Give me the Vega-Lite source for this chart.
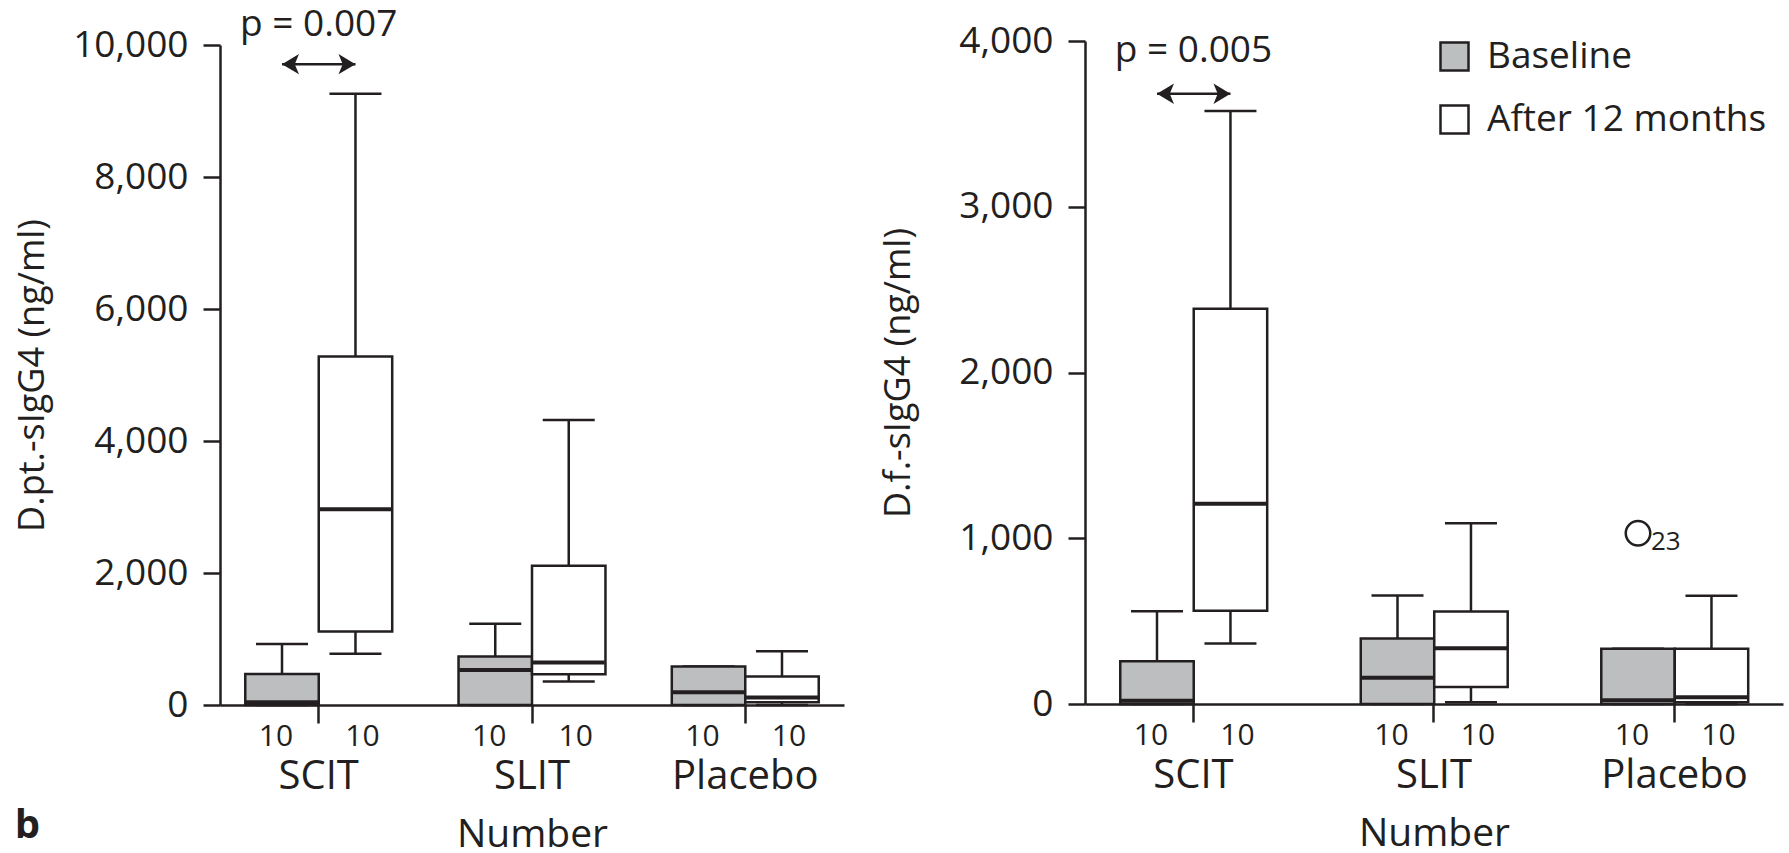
{
  "$schema": "https://vega.github.io/schema/vega-lite/v6.json",
  "background": "white",
  "padding": {"left": 14, "top": 5, "right": 5, "bottom": 5},
  "bounds": "flush",
  "spacing": 241,
  "title": {"text": "b", "orient": "bottom", "anchor": "start", "fontSize": 40, "fontWeight": "bold", "font": "Open Sans", "color": "#231F20", "offset": -48},
  "config": {
    "view": {"stroke": null},
    "font": "Open Sans",
    "axis": {"domainColor": "#231F20", "domainWidth": 2.5, "tickColor": "#231F20", "tickWidth": 2.5, "labelColor": "#231F20", "titleColor": "#231F20", "labelFont": "Open Sans", "titleFont": "Open Sans", "grid": false, "titleFontWeight": "normal", "zindex": 1},
    "axisY": {"tickSize": 17, "labelPadding": 15, "labelFontSize": 37, "titleFontSize": 36, "titlePadding": 21},
    "axisX": {"tickSize": 18, "labelFontSize": 40, "labelAngle": 0, "labelBaseline": "alphabetic", "labelPadding": 65, "titleFontSize": 39, "titlePadding": 19}
  },
  "resolve": {"scale": {"fill": "independent"}, "legend": {"fill": "independent"}},
  "datasets": {
    "dpt": [
      {"group": "SCIT", "condition": "Baseline", "n": 10, "min": 0, "q1": 0, "median": 40, "q3": 470, "max": 925},
      {"group": "SCIT", "condition": "After 12 months", "n": 10, "min": 775, "q1": 1115, "median": 2965, "q3": 5280, "max": 9260},
      {"group": "SLIT", "condition": "Baseline", "n": 10, "min": 0, "q1": 0, "median": 530, "q3": 735, "max": 1230},
      {"group": "SLIT", "condition": "After 12 months", "n": 10, "min": 355, "q1": 465, "median": 645, "q3": 2110, "max": 4320},
      {"group": "Placebo", "condition": "Baseline", "n": 10, "min": 0, "q1": 0, "median": 195, "q3": 585, "max": 585},
      {"group": "Placebo", "condition": "After 12 months", "n": 10, "min": 0, "q1": 40, "median": 115, "q3": 430, "max": 815}
    ],
    "df": [
      {"group": "SCIT", "condition": "Baseline", "n": 10, "min": 0, "q1": 0, "median": 20, "q3": 258, "max": 560},
      {"group": "SCIT", "condition": "After 12 months", "n": 10, "min": 365, "q1": 562, "median": 1208, "q3": 2385, "max": 3578},
      {"group": "SLIT", "condition": "Baseline", "n": 10, "min": 0, "q1": 0, "median": 158, "q3": 395, "max": 654},
      {"group": "SLIT", "condition": "After 12 months", "n": 10, "min": 10, "q1": 102, "median": 337, "q3": 558, "max": 1090},
      {"group": "Placebo", "condition": "Baseline", "n": 10, "min": 0, "q1": 0, "median": 22, "q3": 333, "max": 333},
      {"group": "Placebo", "condition": "After 12 months", "n": 10, "min": 0, "q1": 10, "median": 40, "q3": 333, "max": 653}
    ],
    "dptArrow": [
      {"group": "SCIT", "condition": "Baseline", "y": 9710, "dir": "left"},
      {"group": "SCIT", "condition": "After 12 months", "y": 9710, "dir": "right"}
    ],
    "dfArrow": [
      {"group": "SCIT", "condition": "Baseline", "y": 3682, "dir": "left"},
      {"group": "SCIT", "condition": "After 12 months", "y": 3682, "dir": "right"}
    ],
    "dptP": [{"group": "SCIT", "label": "p = 0.007", "y": 10140}],
    "dfP": [{"group": "SCIT", "label": "p = 0.005", "y": 3872}],
    "dfOut": [{"group": "Placebo", "condition": "Baseline", "value": 1030, "id": "23"}]
  },
  "hconcat": [
    {
      "width": 624,
      "height": 664,
      "data": {"name": "dpt"},
      "encoding": {
        "x": {"field": "group", "type": "nominal", "sort": ["SCIT", "SLIT", "Placebo"], "scale": {"domain": ["SCIT", "SLIT", "Placebo"], "paddingInner": 0.311, "paddingOuter": 0.1185}, "axis": {"title": "Number"}}
      },
      "layer": [
        {
          "mark": {"type": "rule", "stroke": "#231F20", "strokeWidth": 2.5},
          "encoding": {
            "xOffset": {"field": "condition", "type": "nominal", "scale": {"domain": ["Baseline", "After 12 months"], "paddingInner": 0, "paddingOuter": 0}},
            "y": {"field": "q3", "type": "quantitative", "scale": {"domain": [0, 10000], "nice": false, "range": [664, 4]}, "axis": {"title": "D.pt.-sIgG4 (ng/ml)", "values": [0, 2000, 4000, 6000, 8000, 10000], "format": ",d", "titlePadding": 21}},
            "y2": {"field": "max"}
          }
        },
        {
          "mark": {"type": "rule", "stroke": "#231F20", "strokeWidth": 2.5},
          "encoding": {
            "xOffset": {"field": "condition", "type": "nominal", "scale": {"domain": ["Baseline", "After 12 months"], "paddingInner": 0, "paddingOuter": 0}},
            "y": {"field": "min", "type": "quantitative"},
            "y2": {"field": "q1"}
          }
        },
        {
          "mark": {"type": "tick", "size": 52, "thickness": 2.5, "color": "#231F20", "opacity": 1},
          "encoding": {
            "xOffset": {"field": "condition", "type": "nominal", "scale": {"domain": ["Baseline", "After 12 months"], "paddingInner": 0, "paddingOuter": 0}},
            "y": {"field": "max", "type": "quantitative"}
          }
        },
        {
          "mark": {"type": "tick", "size": 52, "thickness": 2.5, "color": "#231F20", "opacity": 1},
          "encoding": {
            "xOffset": {"field": "condition", "type": "nominal", "scale": {"domain": ["Baseline", "After 12 months"], "paddingInner": 0, "paddingOuter": 0}},
            "y": {"field": "min", "type": "quantitative"}
          }
        },
        {
          "mark": {"type": "bar", "stroke": "#231F20", "strokeWidth": 2.5, "opacity": 1},
          "encoding": {
            "xOffset": {"field": "condition", "type": "nominal", "scale": {"domain": ["Baseline", "After 12 months"], "paddingInner": 0, "paddingOuter": 0}},
            "y": {"field": "q1", "type": "quantitative"},
            "y2": {"field": "q3"},
            "fill": {"field": "condition", "type": "nominal", "scale": {"domain": ["Baseline", "After 12 months"], "range": ["#BCBEC0", "#FFFFFF"]}, "legend": null}
          }
        },
        {
          "mark": {"type": "tick", "size": 72, "thickness": 4, "color": "#231F20", "opacity": 1},
          "encoding": {
            "xOffset": {"field": "condition", "type": "nominal", "scale": {"domain": ["Baseline", "After 12 months"], "paddingInner": 0, "paddingOuter": 0}},
            "y": {"field": "median", "type": "quantitative"}
          }
        },
        {
          "transform": [{"filter": "datum.condition === 'Baseline'"}],
          "mark": {"type": "text", "fontSize": 30, "color": "#231F20", "baseline": "alphabetic", "dy": 41, "dx": -6},
          "encoding": {
            "xOffset": {"field": "condition", "type": "nominal", "scale": {"domain": ["Baseline", "After 12 months"], "paddingInner": 0, "paddingOuter": 0}},
            "y": {"datum": 0, "type": "quantitative"},
            "text": {"field": "n"}
          }
        },
        {
          "transform": [{"filter": "datum.condition !== 'Baseline'"}],
          "mark": {"type": "text", "fontSize": 30, "color": "#231F20", "baseline": "alphabetic", "dy": 41, "dx": 7},
          "encoding": {
            "xOffset": {"field": "condition", "type": "nominal", "scale": {"domain": ["Baseline", "After 12 months"], "paddingInner": 0, "paddingOuter": 0}},
            "y": {"datum": 0, "type": "quantitative"},
            "text": {"field": "n"}
          }
        },
        {
          "data": {"name": "dptArrow"},
          "mark": {"type": "line", "color": "#231F20", "strokeWidth": 2.5},
          "encoding": {
            "xOffset": {"field": "condition", "type": "nominal", "scale": {"domain": ["Baseline", "After 12 months"], "paddingInner": 0, "paddingOuter": 0}},
            "y": {"field": "y", "type": "quantitative"}
          }
        },
        {
          "data": {"name": "dptArrow"},
          "mark": {"type": "point", "filled": true, "color": "#231F20", "opacity": 1, "size": 1156},
          "encoding": {
            "xOffset": {"field": "condition", "type": "nominal", "scale": {"domain": ["Baseline", "After 12 months"], "paddingInner": 0, "paddingOuter": 0}},
            "y": {"field": "y", "type": "quantitative"},
            "shape": {"field": "dir", "type": "nominal", "scale": {"domain": ["left", "right"], "range": ["M0,0L1,-0.6L0.75,0L1,0.6Z", "M0,0L-1,-0.6L-0.75,0L-1,0.6Z"]}, "legend": null}
          }
        },
        {
          "data": {"name": "dptP"},
          "mark": {"type": "text", "fontSize": 37, "color": "#231F20", "baseline": "alphabetic"},
          "encoding": {
            "y": {"field": "y", "type": "quantitative"},
            "text": {"field": "label"}
          }
        }
      ]
    },
    {
      "width": 698,
      "height": 663,
      "data": {"name": "df"},
      "encoding": {
        "x": {"field": "group", "type": "nominal", "sort": ["SCIT", "SLIT", "Placebo"], "scale": {"domain": ["SCIT", "SLIT", "Placebo"], "paddingInner": 0.391, "paddingOuter": 0.1466}, "axis": {"title": "Number"}}
      },
      "layer": [
        {
          "mark": {"type": "rule", "stroke": "#231F20", "strokeWidth": 2.5},
          "encoding": {
            "xOffset": {"field": "condition", "type": "nominal", "scale": {"domain": ["Baseline", "After 12 months"], "paddingInner": 0, "paddingOuter": 0}},
            "y": {"field": "q3", "type": "quantitative", "scale": {"domain": [0, 4000], "nice": false}, "axis": {"title": "D.f.-sIgG4 (ng/ml)", "values": [0, 1000, 2000, 3000, 4000], "format": ",d", "titlePadding": 41}},
            "y2": {"field": "max"}
          }
        },
        {
          "mark": {"type": "rule", "stroke": "#231F20", "strokeWidth": 2.5},
          "encoding": {
            "xOffset": {"field": "condition", "type": "nominal", "scale": {"domain": ["Baseline", "After 12 months"], "paddingInner": 0, "paddingOuter": 0}},
            "y": {"field": "min", "type": "quantitative"},
            "y2": {"field": "q1"}
          }
        },
        {
          "mark": {"type": "tick", "size": 52, "thickness": 2.5, "color": "#231F20", "opacity": 1},
          "encoding": {
            "xOffset": {"field": "condition", "type": "nominal", "scale": {"domain": ["Baseline", "After 12 months"], "paddingInner": 0, "paddingOuter": 0}},
            "y": {"field": "max", "type": "quantitative"}
          }
        },
        {
          "mark": {"type": "tick", "size": 52, "thickness": 2.5, "color": "#231F20", "opacity": 1},
          "encoding": {
            "xOffset": {"field": "condition", "type": "nominal", "scale": {"domain": ["Baseline", "After 12 months"], "paddingInner": 0, "paddingOuter": 0}},
            "y": {"field": "min", "type": "quantitative"}
          }
        },
        {
          "mark": {"type": "bar", "stroke": "#231F20", "strokeWidth": 2.5, "opacity": 1},
          "encoding": {
            "xOffset": {"field": "condition", "type": "nominal", "scale": {"domain": ["Baseline", "After 12 months"], "paddingInner": 0, "paddingOuter": 0}},
            "y": {"field": "q1", "type": "quantitative"},
            "y2": {"field": "q3"},
            "fill": {"field": "condition", "type": "nominal", "scale": {"domain": ["Baseline", "After 12 months"], "range": ["#BCBEC0", "#FFFFFF"]},
              "legend": {"orient": "none", "legendX": 351, "legendY": -3, "title": null, "symbolType": "square", "symbolSize": 784, "symbolStrokeColor": "#231F20", "symbolStrokeWidth": 2.5, "symbolOpacity": 1, "labelFontSize": 37, "labelFont": "Open Sans", "labelColor": "#231F20", "labelOffset": 14, "labelLimit": 500, "rowPadding": 24}}
          }
        },
        {
          "mark": {"type": "tick", "size": 72, "thickness": 4, "color": "#231F20", "opacity": 1},
          "encoding": {
            "xOffset": {"field": "condition", "type": "nominal", "scale": {"domain": ["Baseline", "After 12 months"], "paddingInner": 0, "paddingOuter": 0}},
            "y": {"field": "median", "type": "quantitative"}
          }
        },
        {
          "transform": [{"filter": "datum.condition === 'Baseline'"}],
          "mark": {"type": "text", "fontSize": 30, "color": "#231F20", "baseline": "alphabetic", "dy": 41, "dx": -6},
          "encoding": {
            "xOffset": {"field": "condition", "type": "nominal", "scale": {"domain": ["Baseline", "After 12 months"], "paddingInner": 0, "paddingOuter": 0}},
            "y": {"datum": 0, "type": "quantitative"},
            "text": {"field": "n"}
          }
        },
        {
          "transform": [{"filter": "datum.condition !== 'Baseline'"}],
          "mark": {"type": "text", "fontSize": 30, "color": "#231F20", "baseline": "alphabetic", "dy": 41, "dx": 7},
          "encoding": {
            "xOffset": {"field": "condition", "type": "nominal", "scale": {"domain": ["Baseline", "After 12 months"], "paddingInner": 0, "paddingOuter": 0}},
            "y": {"datum": 0, "type": "quantitative"},
            "text": {"field": "n"}
          }
        },
        {
          "data": {"name": "dfArrow"},
          "mark": {"type": "line", "color": "#231F20", "strokeWidth": 2.5},
          "encoding": {
            "xOffset": {"field": "condition", "type": "nominal", "scale": {"domain": ["Baseline", "After 12 months"], "paddingInner": 0, "paddingOuter": 0}},
            "y": {"field": "y", "type": "quantitative"}
          }
        },
        {
          "data": {"name": "dfArrow"},
          "mark": {"type": "point", "filled": true, "color": "#231F20", "opacity": 1, "size": 1156},
          "encoding": {
            "xOffset": {"field": "condition", "type": "nominal", "scale": {"domain": ["Baseline", "After 12 months"], "paddingInner": 0, "paddingOuter": 0}},
            "y": {"field": "y", "type": "quantitative"},
            "shape": {"field": "dir", "type": "nominal", "scale": {"domain": ["left", "right"], "range": ["M0,0L1,-0.6L0.75,0L1,0.6Z", "M0,0L-1,-0.6L-0.75,0L-1,0.6Z"]}, "legend": null}
          }
        },
        {
          "data": {"name": "dfP"},
          "mark": {"type": "text", "fontSize": 37, "color": "#231F20", "baseline": "alphabetic"},
          "encoding": {
            "y": {"field": "y", "type": "quantitative"},
            "text": {"field": "label"}
          }
        },
        {
          "data": {"name": "dfOut"},
          "mark": {"type": "point", "shape": "circle", "filled": false, "color": "#231F20", "strokeWidth": 2.5, "opacity": 1, "size": 600},
          "encoding": {
            "xOffset": {"field": "condition", "type": "nominal", "scale": {"domain": ["Baseline", "After 12 months"], "paddingInner": 0, "paddingOuter": 0}},
            "y": {"field": "value", "type": "quantitative"}
          }
        },
        {
          "data": {"name": "dfOut"},
          "mark": {"type": "text", "fontSize": 26, "color": "#231F20", "align": "left", "baseline": "middle", "dx": 13, "dy": 9},
          "encoding": {
            "xOffset": {"field": "condition", "type": "nominal", "scale": {"domain": ["Baseline", "After 12 months"], "paddingInner": 0, "paddingOuter": 0}},
            "y": {"field": "value", "type": "quantitative"},
            "text": {"field": "id"}
          }
        }
      ]
    }
  ]
}
